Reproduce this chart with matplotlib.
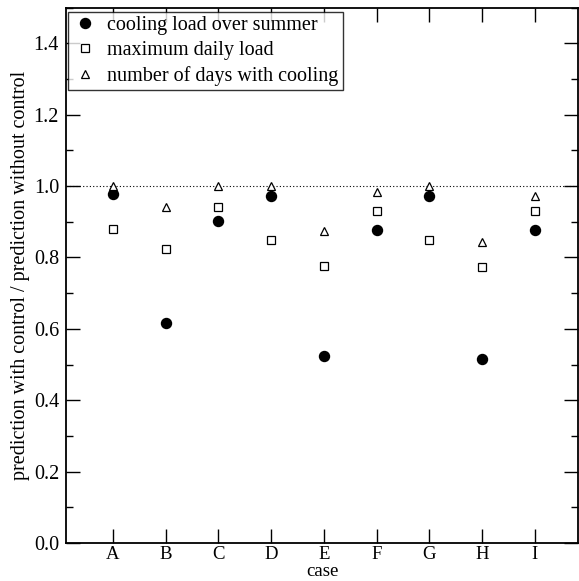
import numpy as np
import matplotlib
matplotlib.use("Agg")
import matplotlib.pyplot as plt
from matplotlib.ticker import MultipleLocator, FormatStrFormatter

plt.rcParams['font.family'] = ['Liberation Serif', 'DejaVu Serif']

# data
cases = ['A', 'B', 'C', 'D', 'E', 'F', 'G', 'H', 'I']
cooling_load = [0.977, 0.615, 0.901, 0.972, 0.524, 0.876, 0.971, 0.515, 0.876]
max_daily_load = [0.880, 0.823, 0.941, 0.850, 0.777, 0.931, 0.849, 0.772, 0.931]
days_cooling = [1.000, 0.942, 1.000, 1.000, 0.873, 0.982, 1.000, 0.843, 0.973]

x = np.arange(1, len(cases) + 1)
fs = 14.5

fig = plt.figure(figsize=(5.79, 5.81), dpi=100)
ax = fig.add_axes([66 / 579, 38 / 581, 512 / 579, 535.5 / 581])

ax.axhline(1.0, color='black', linestyle=(0, (1, 2)), linewidth=0.8, zorder=1)

ax.plot(x, cooling_load, 'o', color='black', markersize=7.2,
        linestyle='none', label='cooling load over summer', zorder=3)
ax.plot(x, max_daily_load, 's', markerfacecolor='white', markeredgecolor='black',
        markeredgewidth=0.9, markersize=5.8, linestyle='none',
        label='maximum daily load', zorder=3)
ax.plot(x, days_cooling, '^', markerfacecolor='white', markeredgecolor='black',
        markeredgewidth=0.9, markersize=6.2, linestyle='none',
        label='number of days with cooling', zorder=3)

ax.set_xlim(0.11, 9.82)
ax.set_ylim(0.0, 1.5)
ax.set_xticks(x)
ax.set_xticklabels(cases)
ax.yaxis.set_major_locator(MultipleLocator(0.2))
ax.yaxis.set_minor_locator(MultipleLocator(0.1))
ax.yaxis.set_major_formatter(FormatStrFormatter('%.1f'))

ax.tick_params(axis='both', which='major', direction='in', length=10, width=1.0,
               labelsize=fs, top=True, right=True)
ax.tick_params(axis='y', which='minor', direction='in', length=5, width=1.0,
               right=True)
ax.tick_params(axis='x', which='major', pad=2.5, labelsize=13.5)
ax.tick_params(axis='y', which='major', pad=5)

for sp in ax.spines.values():
    sp.set_linewidth(1.3)

ax.set_xlabel('case', fontsize=13.5, labelpad=0)
ax.set_ylabel('prediction with control / prediction without control',
              fontsize=fs, labelpad=3)

leg = ax.legend(loc='upper left', bbox_to_anchor=(68 / 579, 1 - 12 / 581),
                bbox_transform=fig.transFigure, borderaxespad=0,
                fontsize=fs, frameon=True, fancybox=False,
                handlelength=1.25, handletextpad=0.5, labelspacing=0.3,
                borderpad=0.2, numpoints=1)
leg.get_frame().set_edgecolor('black')
leg.get_frame().set_linewidth(1.0)

fig.savefig('out.png', dpi=100)
plt.close(fig)
